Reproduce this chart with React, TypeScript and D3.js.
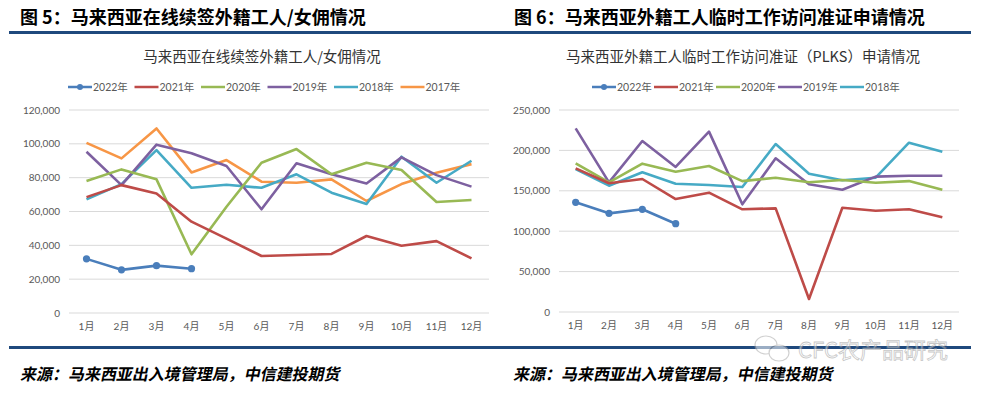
import React from "react";
import * as d3 from "d3";

const months = ["1月","2月","3月","4月","5月","6月","7月","8月","9月","10月","11月","12月"];

// Figure 5: online renewals of foreign workers / maids
const leftTicks = [0, 20000, 40000, 60000, 80000, 100000, 120000];
const l2022 = [32000, 25500, 28000, 26200];
const l2021 = [68500, 75600, 70700, 54000, 44000, 33700, 34300, 34900, 45500, 39800, 42500, 32300];
const l2020 = [78000, 84900, 79000, 34700, 62800, 88800, 96900, 82000, 88800, 84500, 65600, 66800];
const l2019 = [95300, 75600, 99500, 94400, 86900, 61300, 88500, 82000, 76600, 92000, 81500, 74700];
const l2018 = [67200, 76200, 96300, 74000, 75800, 74000, 82000, 71100, 64400, 92400, 77000, 90000];
const l2017 = [100600, 91400, 109100, 83100, 90400, 77600, 77000, 79000, 66200, 76200, 82900, 88000];

// Figure 6: PLKS applications
const rightTicks = [0, 50000, 100000, 150000, 200000, 250000];
const r2022 = [135700, 122100, 127100, 109300];
const r2021 = [177800, 159300, 164600, 139800, 147700, 127100, 128300, 16100, 129100, 125400, 127100, 117200];
const r2020 = [184000, 160500, 183600, 173600, 180700, 162000, 166200, 160500, 163400, 160000, 162000, 151400];
const r2019 = [227300, 160500, 211600, 179500, 223200, 133300, 190200, 158000, 151400, 167500, 168700, 168700];
const r2018 = [177000, 156300, 172900, 158800, 157200, 154700, 207900, 171200, 163000, 166200, 209500, 198400];

const C = {
  y2022: "#4A7EBB",
  y2021: "#BE4B48",
  y2020: "#98B954",
  y2019: "#7D60A0",
  y2018: "#46AAC5",
  y2017: "#F79646",
};

const leftSeries = [
  { name: "2022年", values: l2022, color: C.y2022, marker: true },
  { name: "2021年", values: l2021, color: C.y2021, marker: false },
  { name: "2020年", values: l2020, color: C.y2020, marker: false },
  { name: "2019年", values: l2019, color: C.y2019, marker: false },
  { name: "2018年", values: l2018, color: C.y2018, marker: false },
  { name: "2017年", values: l2017, color: C.y2017, marker: false },
];
const rightSeries = [
  { name: "2022年", values: r2022, color: C.y2022, marker: true },
  { name: "2021年", values: r2021, color: C.y2021, marker: false },
  { name: "2020年", values: r2020, color: C.y2020, marker: false },
  { name: "2019年", values: r2019, color: C.y2019, marker: false },
  { name: "2018年", values: r2018, color: C.y2018, marker: false },
];

const tickFont = "Lato, 'Noto Sans', 'Noto Sans CJK SC', sans-serif";
const cjk = "'Noto Sans CJK SC', sans-serif";
const fmt = d3.format(",");

type Series = { name: string; values: number[]; color: string; marker: boolean };

function Panel(props: {
  x0: number; x1: number; y0: number; y1: number; max: number; ticks: number[];
  series: Series[]; title: string; titleX: number; legendX: number; legendGap: number;
}) {
  const { x0, x1, y0, y1, max, ticks, series, title, titleX, legendX, legendGap } = props;
  const x = d3.scaleBand<string>().domain(months).range([x0, x1]);
  const y = d3.scaleLinear().domain([0, max]).range([y1, y0]);
  const line = d3.line<number>()
    .x((_, i) => (x(months[i]) as number) + x.bandwidth() / 2)
    .y((d) => y(d));
  return (
    <g>
      <text x={titleX} y={62} textAnchor="middle" fontFamily={cjk} fontSize={14.5} fill="#333">{title}</text>
      {series.map((s, i) => {
        const lx = legendX + i * legendGap;
        return (
          <g key={"lg" + s.name}>
            <line x1={lx} x2={lx + 24} y1={87} y2={87} stroke={s.color} strokeWidth={2.5} />
            {s.marker && <circle cx={lx + 12} cy={87} r={3} fill={s.color} />}
            <text x={lx + 25} y={91} fontFamily={tickFont} fontSize={10.5} fill="#595959">{s.name}</text>
          </g>
        );
      })}
      {ticks.map((t) => (
        <g key={"t" + t}>
          <line x1={x0} x2={x1} y1={y(t)} y2={y(t)} stroke="#D9D9D9" strokeWidth={1} />
          <text x={x0 - 9} y={y(t) + 3.5} textAnchor="end" fontFamily={tickFont} fontSize={10} fill="#595959">{fmt(t)}</text>
        </g>
      ))}
      {months.map((m) => (
        <text key={m} x={(x(m) as number) + x.bandwidth() / 2} y={y1 + 17} textAnchor="middle" fontFamily={tickFont} fontSize={10} fill="#595959">{m}</text>
      ))}
      {series.slice().reverse().map((s) => (
        <g key={"s" + s.name}>
          <path d={line(s.values) || ""} fill="none" stroke={s.color} strokeWidth={2.6} strokeLinejoin="round" />
          {s.marker && s.values.map((v, i) => (
            <circle key={i} cx={(x(months[i]) as number) + x.bandwidth() / 2} cy={y(v)} r={3.6} fill={s.color} />
          ))}
        </g>
      ))}
    </g>
  );
}

export default function App() {
  return (
    <svg width={992} height={394} style={{ position: "absolute", left: 0, top: 0, background: "#fff" }}>
      <rect x={0} y={0} width={992} height={394} fill="#fff" />
      {/* headers */}
      <text x={20} y={24} fontFamily={cjk} fontWeight="bold" fontSize={18} fill="#000">图 5：马来西亚在线续签外籍工人/女佣情况</text>
      <text x={514} y={24} fontFamily={cjk} fontWeight="bold" fontSize={18} fill="#000">图 6：马来西亚外籍工人临时工作访问准证申请情况</text>
      <rect x={9} y={31} width={487} height={3} fill="#1F497D" />
      <rect x={496} y={31} width={475} height={3} fill="#1F497D" />

      <Panel x0={69} x1={489} y0={110} y1={313} max={120000} ticks={leftTicks} series={leftSeries}
        title="马来西亚在线续签外籍工人/女佣情况" titleX={262} legendX={68} legendGap={66.5} />
      <Panel x0={559} x1={959} y0={110} y1={312} max={250000} ticks={rightTicks} series={rightSeries}
        title="马来西亚外籍工人临时工作访问准证（PLKS）申请情况" titleX={743} legendX={592} legendGap={62} />

      {/* bottom rules */}
      <rect x={9} y={346} width={487} height={3} fill="#1F497D" />
      <rect x={496} y={346} width={475} height={3} fill="#1F497D" />

      {/* watermark */}
      <g opacity={0.55}>
        <ellipse cx={766} cy={345} rx={11} ry={9} fill="#fff" stroke="#aaa" strokeWidth={1.2} />
        <ellipse cx={779} cy={353} rx={10} ry={8} fill="#fff" stroke="#aaa" strokeWidth={1.2} />
        <text x={798} y={358} fontFamily={cjk} fontSize={22} fill="#fff" stroke="#999" strokeWidth={0.8}>CFC农产品研究</text>
      </g>

      <text transform="translate(20,380) skewX(-12)" x={0} y={0} fontFamily={cjk} fontWeight="bold" fontSize={16} fill="#000">来源：马来西亚出入境管理局，中信建投期货</text>
      <text transform="translate(513,380) skewX(-12)" x={0} y={0} fontFamily={cjk} fontWeight="bold" fontSize={16} fill="#000">来源：马来西亚出入境管理局，中信建投期货</text>
    </svg>
  );
}
